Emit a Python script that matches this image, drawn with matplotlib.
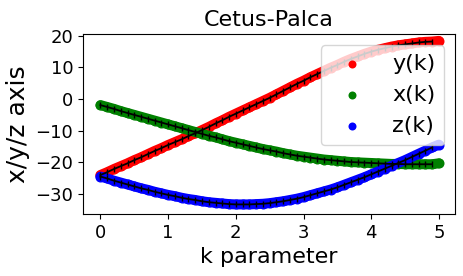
import matplotlib
matplotlib.use('Agg')
import matplotlib.pyplot as plt
import numpy as np

# k parameter, step 0.1 from 0 to 5
k = np.round(np.arange(0, 51) * 0.1, 1)

y_k = [-24.0, -23.1, -22.1, -21.2, -20.3, -19.3, -18.4, -17.4, -16.4, -15.5,
       -14.5, -13.6, -12.7, -11.7, -10.8, -9.8, -8.8, -7.7, -6.7, -5.6,
       -4.6, -3.6, -2.6, -1.6, -0.6, 0.4, 1.5, 2.6, 3.7, 4.8,
       5.8, 6.9, 7.9, 8.9, 9.9, 10.8, 11.8, 12.7, 13.5, 14.3,
       15.0, 15.6, 16.1, 16.6, 17.0, 17.3, 17.6, 17.9, 18.1, 18.2,
       18.4]

x_k = [-1.9, -2.5, -3.1, -3.8, -4.4, -5.0, -5.6, -6.2, -6.8, -7.4,
       -8.0, -8.6, -9.2, -9.8, -10.4, -11.0, -11.6, -12.1, -12.7, -13.3,
       -13.8, -14.3, -14.8, -15.3, -15.8, -16.2, -16.6, -17.1, -17.5, -17.9,
       -18.2, -18.5, -18.8, -19.1, -19.3, -19.5, -19.7, -19.9, -20.0, -20.1,
       -20.2, -20.3, -20.4, -20.5, -20.5, -20.6, -20.6, -20.6, -20.6, -20.6,
       -20.3]

z_k = [-24.5, -25.1, -25.8, -26.4, -27.0, -27.6, -28.2, -28.7, -29.3, -29.8,
       -30.3, -30.7, -31.2, -31.6, -31.9, -32.3, -32.6, -32.8, -33.0, -33.2,
       -33.3, -33.3, -33.3, -33.2, -33.1, -32.9, -32.6, -32.3, -31.9, -31.5,
       -31.0, -30.4, -29.8, -29.2, -28.6, -27.9, -27.1, -26.3, -25.5, -24.7,
       -23.8, -22.9, -22.0, -21.1, -20.2, -19.3, -18.3, -17.3, -16.3, -15.3,
       -14.4]

fig = plt.figure(figsize=(4.63, 2.76), dpi=100)
ax = fig.add_axes([0.179, 0.225, 0.804, 0.652])

# dense scatter bands: thick line underneath so the dots merge into a band
for vals, col, lab in ((y_k, 'red', 'y(k)'), (x_k, 'green', 'x(k)'), (z_k, 'blue', 'z(k)')):
    ax.plot(k, vals, color=col, linewidth=7.2, solid_capstyle='round', solid_joinstyle='round')
    ax.scatter(k, vals, s=52, c=col, linewidths=0, label=lab)

# black fitted line with tick markers (stops one step short)
for vals in (y_k, x_k, z_k):
    ax.plot(k[:-1], vals[:-1], 'k-', marker='|', markersize=4, linewidth=1.3)

ax.set_xlim(-0.26, 5.24)
ax.set_ylim(-36.3, 20.6)
ax.set_xticks([0, 1, 2, 3, 4, 5])
ax.set_yticks([-30, -20, -10, 0, 10, 20])
ax.tick_params(labelsize=13)

ax.set_title('Cetus-Palca', fontsize=16)
ax.set_xlabel('k parameter', fontsize=16)
ax.set_ylabel('x/y/z axis', fontsize=18)
ax.legend(loc='upper right', fontsize=16, markerscale=0.8)

plt.savefig('out.png', dpi=100)
